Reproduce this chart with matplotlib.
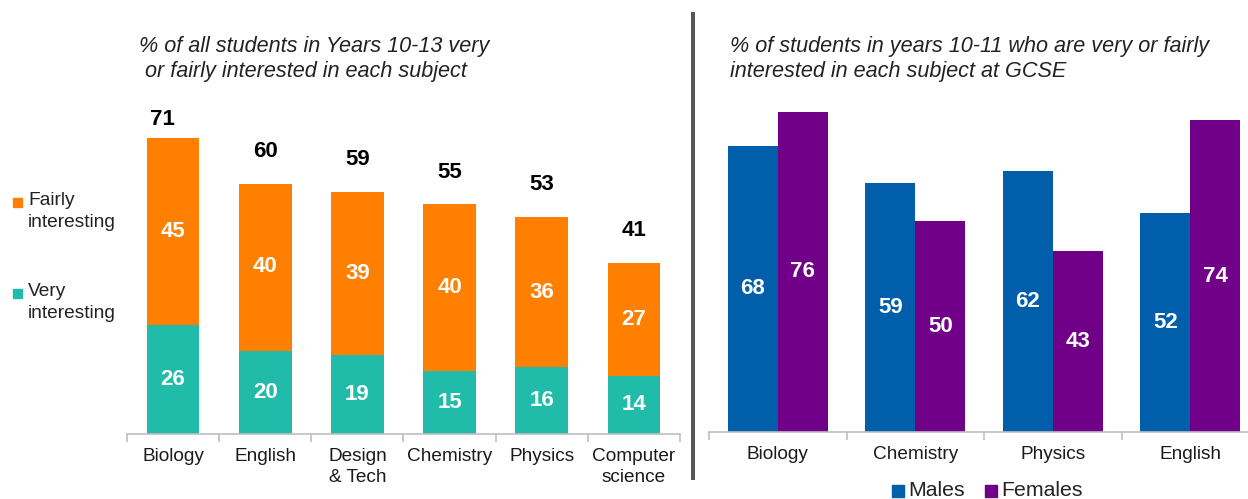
import matplotlib
matplotlib.use("Agg")
import matplotlib.pyplot as plt
from matplotlib.patches import Rectangle
from matplotlib.lines import Line2D
import numpy as np

plt.rcParams['font.family'] = ['Liberation Sans', 'DejaVu Sans']

# ---- data ----
left_categories = ["Biology", "English", "Design\n& Tech", "Chemistry", "Physics", "Computer\nscience"]
very_interesting = [26, 20, 19, 15, 16, 14]
fairly_interesting = [45, 40, 39, 40, 36, 27]
left_totals = [71, 60, 59, 55, 53, 41]

right_categories = ["Biology", "Chemistry", "Physics", "English"]
males = [68, 59, 62, 52]
females = [76, 50, 43, 74]

left_title = "% of all students in Years 10-13 very\n or fairly interested in each subject"
right_title = "% of students in years 10-11 who are very or fairly\ninterested in each subject at GCSE"

C_ORANGE = "#FF8000"
C_TEAL = "#21BBAA"
C_BLUE = "#005EAA"
C_PURPLE = "#700088"
C_SPINE = "#BFBFBF"

# total-label placement (style): default gap above bar, first one squeezed
TOTAL_GAP = 7.7
TOTAL_GAP_FIRST = 4.3
TOTAL_DX_FIRST = -0.12

W, H = 1248, 499
fig = plt.figure(figsize=(W / 100, H / 100), dpi=100)

def fx(px):
    return px / W

def fy(py):
    return (H - py) / H

VAL_FS = 16

# ---- left chart ----
axL = fig.add_axes([fx(127), fy(434), fx(680) - fx(127), (434 - 100) / H])
x = np.arange(len(left_categories))
bw = 0.57
axL.bar(x, very_interesting, bw, color=C_TEAL, zorder=2)
axL.bar(x, fairly_interesting, bw, bottom=very_interesting, color=C_ORANGE, zorder=2)
for i in range(len(x)):
    v, f, t = very_interesting[i], fairly_interesting[i], left_totals[i]
    axL.text(x[i], v / 2, str(v), ha="center", va="center", color="white",
             fontsize=VAL_FS, fontweight="bold")
    axL.text(x[i], v + f / 2, str(f), ha="center", va="center", color="white",
             fontsize=VAL_FS, fontweight="bold")
    gap = TOTAL_GAP_FIRST if i == 0 else TOTAL_GAP
    dx = TOTAL_DX_FIRST if i == 0 else 0
    axL.text(x[i] + dx, v + f + gap, str(t), ha="center", va="center", color="black",
             fontsize=VAL_FS, fontweight="bold", clip_on=False)
axL.set_xlim(-0.5, len(x) - 0.5)
axL.set_ylim(0, 80)

# ---- right chart ----
axR = fig.add_axes([fx(709), fy(432), fx(1259) - fx(709), (432 - 95) / H])
xr = np.arange(len(right_categories))
bwr = 0.364
axR.bar(xr - bwr / 2, males, bwr, color=C_BLUE, zorder=2)
axR.bar(xr + bwr / 2, females, bwr, color=C_PURPLE, zorder=2)
for i in range(len(xr)):
    axR.text(xr[i] - bwr / 2, males[i] / 2, str(males[i]), ha="center", va="center",
             color="white", fontsize=VAL_FS, fontweight="bold")
    axR.text(xr[i] + bwr / 2, females[i] / 2, str(females[i]), ha="center", va="center",
             color="white", fontsize=VAL_FS, fontweight="bold")
axR.set_xlim(-0.5, len(xr) - 0.5)
axR.set_ylim(0, 80)

for ax, cats in ((axL, left_categories), (axR, right_categories)):
    n = len(cats)
    for s in ("top", "right", "left"):
        ax.spines[s].set_visible(False)
    ax.spines["bottom"].set_color(C_SPINE)
    ax.spines["bottom"].set_linewidth(1.2)
    ax.set_yticks([])
    ax.set_xticks(np.arange(n))
    ax.set_xticklabels(cats, fontsize=13.7, color="#1a1a1a", linespacing=1.3)
    ax.tick_params(axis="x", which="major", length=0, pad=10)
    ax.set_xticks(np.arange(n + 1) - 0.5, minor=True)
    ax.tick_params(axis="x", which="minor", length=6, width=1.2, color=C_SPINE)
    ax.set_facecolor("none")

# ---- titles ----
fig.text(fx(139), fy(36), left_title, ha="left", va="top", fontsize=15.6,
         style="italic", color="#222222", linespacing=1.25)
fig.text(fx(730), fy(36), right_title, ha="left", va="top", fontsize=15.6,
         style="italic", color="#222222", linespacing=1.25)

# ---- left legend ----
fig.add_artist(Rectangle((fx(13), fy(207)), fx(9), 9 / H, color=C_ORANGE,
                         transform=fig.transFigure))
fig.text(fx(28), fy(192), "Fairly\ninteresting", ha="left", va="top", fontsize=13.8,
         color="#222222", linespacing=1.38)
fig.add_artist(Rectangle((fx(13), fy(298)), fx(9), 9 / H, color=C_TEAL,
                         transform=fig.transFigure))
fig.text(fx(28), fy(283), "Very\ninteresting", ha="left", va="top", fontsize=13.8,
         color="#222222", linespacing=1.38)

# ---- right legend ----
fig.add_artist(Rectangle((fx(892), fy(497)), fx(12), 12 / H, color=C_BLUE,
                         transform=fig.transFigure))
fig.text(fx(908), fy(490), "Males", ha="left", va="center", fontsize=15.3, color="#222222")
fig.add_artist(Rectangle((fx(985), fy(497)), fx(12), 12 / H, color=C_PURPLE,
                         transform=fig.transFigure))
fig.text(fx(1001), fy(490), "Females", ha="left", va="center", fontsize=15.3, color="#222222")

# ---- divider ----
fig.add_artist(Line2D([fx(693), fx(693)], [fy(478), fy(14)], color="#575757",
                      linewidth=2.9, transform=fig.transFigure))

fig.savefig("out.png", dpi=100, facecolor="white")
